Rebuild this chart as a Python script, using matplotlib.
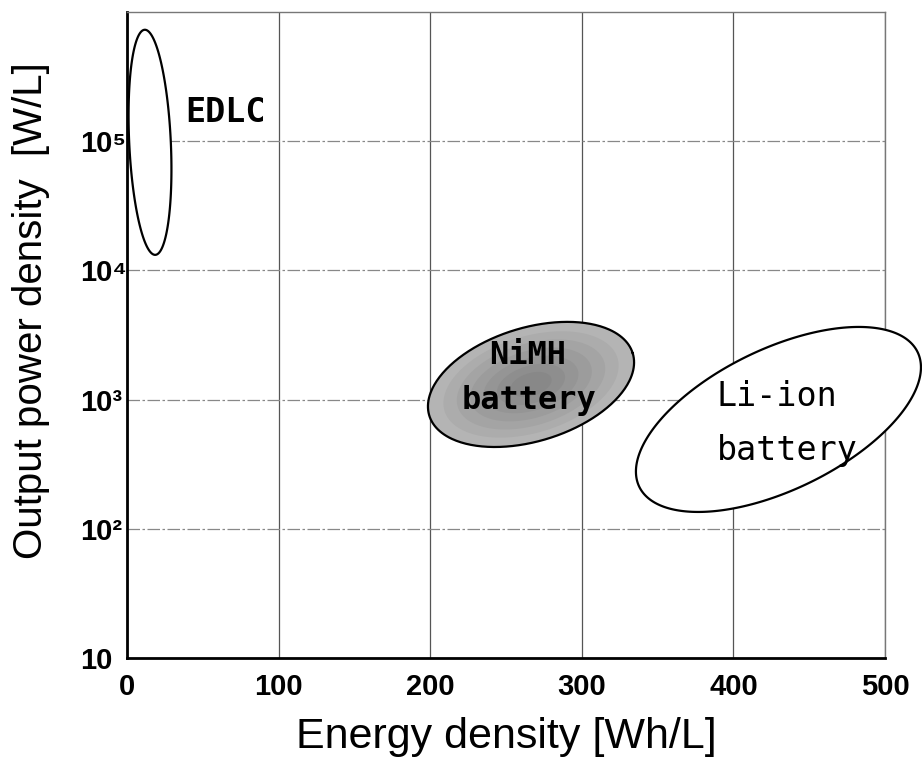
import numpy as np
import matplotlib
matplotlib.use('Agg')
import matplotlib.pyplot as plt
from matplotlib import font_manager
from matplotlib.ticker import NullLocator

# axis ticks
energy_ticks = [0, 100, 200, 300, 400, 500]
power_ticks = [10, 1e2, 1e3, 1e4, 1e5]
power_tick_labels = ['10', '10²', '10³', '10⁴', '10⁵']

# regions: centre + two conjugate semi-axes (Wh/L, decades of W/L)
region_names = ['EDLC', 'NiMH', 'Li-ion']
center_energy = [15.2, 266.5, 429.7]
center_power = [9.8e4, 1310, 702]
major_energy = [-3.5, 67.1, 91.8]
major_decades = [0.871, 0.241, 0.521]
minor_energy = [13.7, -10.9, -20.2]
minor_decades = [0.0076, 0.420, 0.491]

# region labels
label_lines = [['EDLC'], ['NiMH', 'battery'], ['Li-ion', 'battery']]
label_energy = [[65.3], [264.0, 265.0], [389.0, 389.0]]
label_power = [[1.68e5], [2210, 990], [1050, 405]]

names = {f.name for f in font_manager.fontManager.ttflist}
tick_font = 'Liberation Sans Narrow' if 'Liberation Sans Narrow' in names else 'Liberation Sans'

fig = plt.figure(figsize=(9.22, 7.67), dpi=100)
ax = fig.add_axes([0.1377, 0.1421, 0.8222, 0.8423])
ax.set_yscale('log')
ax.set_xlim(0, 500)
ax.set_ylim(10, 1e6)


def ellipse_pts(i, scale=1.0, n=300):
    t = np.linspace(0, 2 * np.pi, n)
    x = center_energy[i] + scale * (major_energy[i] * np.cos(t) + minor_energy[i] * np.sin(t))
    ly = np.log10(center_power[i]) + scale * (major_decades[i] * np.cos(t) + minor_decades[i] * np.sin(t))
    return x, 10 ** ly


# EDLC and Li-ion: white filled outlines
for i in [0, 2]:
    x, y = ellipse_pts(i)
    ax.fill(x, y, facecolor='white', edgecolor='black', lw=1.6, zorder=3, clip_on=False)

# NiMH: grey, darker toward the middle
x, y = ellipse_pts(1)
ax.fill(x, y, facecolor='#b4b4b4', edgecolor='none', zorder=3)
shades = ['#acacac', '#a4a4a4', '#9c9c9c', '#959595', '#8e8e8e', '#888888']
for k, c in enumerate(shades):
    xs, ys = ellipse_pts(1, scale=0.85 - k * 0.13)
    ax.fill(xs, ys, facecolor=c, edgecolor='none', zorder=3)
ax.plot(x, y, color='black', lw=1.6, zorder=3.5)

# labels
ax.text(label_energy[0][0], label_power[0][0], label_lines[0][0], ha='center', va='center',
        family='DejaVu Sans Mono', fontweight='bold', fontsize=24, zorder=4)
for j in range(2):
    ax.text(label_energy[1][j], label_power[1][j], label_lines[1][j], ha='center', va='center',
            family='DejaVu Sans Mono', fontweight='bold', fontsize=23, zorder=4)
    ax.text(label_energy[2][j], label_power[2][j], label_lines[2][j], ha='left', va='center',
            family='DejaVu Sans Mono', fontsize=24, zorder=4)

# grid
ax.set_xticks(energy_ticks)
ax.set_yticks(power_ticks)
ax.yaxis.set_minor_locator(NullLocator())
ax.set_yticklabels(power_tick_labels)
ax.xaxis.grid(True, color='#555555', lw=0.9, ls='-')
ax.yaxis.grid(True, color='#888888', lw=0.9, ls=(0, (10, 2, 2, 2)))
ax.set_axisbelow(True)

ax.tick_params(axis='x', length=0, pad=11, labelsize=21)
ax.tick_params(axis='y', length=0, pad=34, labelsize=21)
for lab in ax.get_xticklabels() + ax.get_yticklabels():
    lab.set_family([tick_font, 'DejaVu Sans'])
    lab.set_fontweight('bold')
for lab in ax.get_yticklabels():
    lab.set_horizontalalignment('left')

for s in ['left', 'bottom']:
    ax.spines[s].set_linewidth(2)
    ax.spines[s].set_color('black')
for s in ['top', 'right']:
    ax.spines[s].set_linewidth(1)
    ax.spines[s].set_color('#777777')

ax.set_xlabel('Energy density [Wh/L]', family='Liberation Sans', fontsize=31)
ax.set_ylabel('Output power density  [W/L]', family='Liberation Sans', fontsize=29)
ax.xaxis.set_label_coords(0.5, -0.091)
ax.yaxis.set_label_coords(-0.1016, 0.537)

fig.savefig('out.png', dpi=100)
